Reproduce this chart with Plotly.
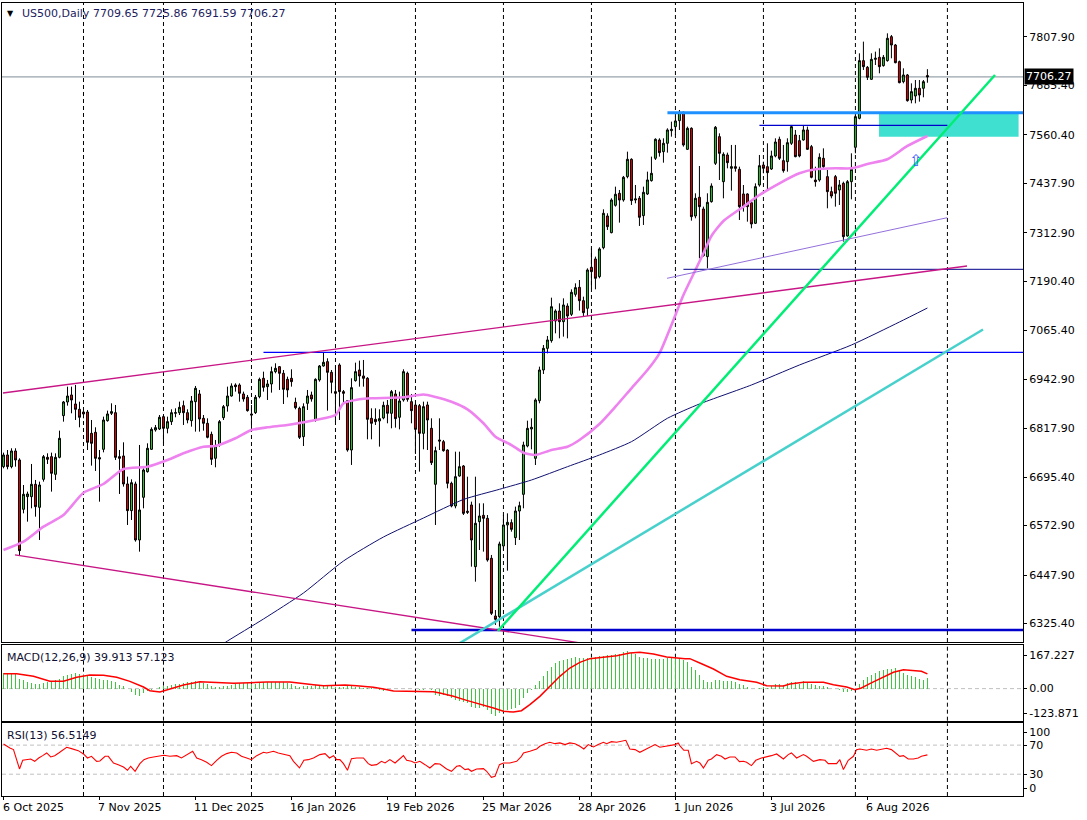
import plotly.graph_objects as go

# ---------------- data ----------------
opens = [
6721.8, 6751.3, 6721.8, 6761.4, 6738.7, 6614.1, 6646.1, 6646.1, 6677.2, 6619.1,
6689.8, 6745.4, 6747.1, 6702.5, 6745.4, 6850.7, 6885.2, 6902.9, 6880.1, 6866.7,
6859.9, 6859.9, 6806.0, 6808.6, 6744.6, 6765.6, 6838.0, 6856.6, 6858.2, 6747.1,
6748.8, 6678.1, 6610.7, 6678.1, 6536.6, 6644.4, 6709.2, 6765.6, 6814.5, 6817.0,
6848.1, 6818.7, 6835.5, 6856.6, 6858.2, 6875.9, 6858.2, 6838.0, 6886.0, 6905.4,
6843.9, 6831.3, 6803.5, 6742.9, 6776.6, 6845.6, 6875.1, 6900.3, 6928.1, 6928.1,
6905.4, 6897.0, 6854.9, 6858.2, 6898.7, 6945.0, 6923.9, 6930.7, 6961.8, 6974.4,
6957.6, 6942.4, 6945.0, 6884.3, 6869.2, 6797.6, 6881.8, 6902.9, 6839.7, 6940.8,
6976.1, 6987.1, 6960.1, 6911.3, 6978.6, 6911.3, 6888.6, 6763.9, 6939.1, 6966.0,
6950.9, 6945.0, 6843.9, 6841.4, 6837.2, 6844.8, 6876.8, 6856.6, 6905.4, 6846.5,
6890.2, 6957.6, 6886.0, 6877.6, 6875.9, 6806.0, 6877.6, 6818.6, 6677.2, 6789.2,
6784.9, 6763.9, 6679.7, 6622.4, 6698.2, 6723.5, 6609.1, 6625.0, 6469.2, 6582.9,
6598.9, 6591.3, 6490.3, 6344.6, 6342.9, 6521.4, 6574.5, 6580.4, 6542.5, 6609.8,
6651.9, 6774.0, 6817.0, 6742.9, 6888.5, 6966.0, 7020.7, 7040.1, 7089.8, 7115.0,
7088.1, 7127.6, 7106.6, 7157.1, 7174.8, 7141.1, 7121.8, 7225.4, 7246.4, 7201.8,
7275.0, 7355.0, 7312.9, 7382.0, 7412.3, 7395.4, 7454.4, 7498.2, 7395.4, 7399.7,
7355.9, 7410.6, 7444.3, 7500.7, 7547.0, 7517.5, 7538.6, 7570.6, 7580.7, 7595.8,
7616.9, 7523.4, 7576.5, 7355.0, 7402.2, 7372.7, 7252.3, 7391.2, 7488.1, 7555.4,
7441.7, 7509.1, 7475.4, 7479.6, 7472.9, 7410.6, 7410.6, 7388.7, 7336.5, 7433.3,
7483.8, 7479.6, 7473.7, 7506.6, 7548.7, 7494.8, 7492.2, 7538.6, 7559.6, 7545.3,
7547.0, 7572.3, 7530.1, 7445.9, 7445.9, 7500.7, 7454.4, 7416.5, 7454.4, 7420.7,
7437.5, 7304.5, 7441.7, 7528.5, 7601.7, 7747.4, 7730.5, 7700.2, 7750.7, 7755.8,
7734.8, 7747.4, 7808.0, 7786.9, 7744.8, 7694.3, 7711.2, 7648.0, 7658.1, 7677.5,
7677.5, 7709.65]

highs = [
6757.2, 6763.9, 6768.2, 6768.2, 6742.9, 6675.5, 6658.7, 6728.6, 6688.2, 6684.0,
6751.3, 6755.5, 6757.2, 6755.5, 6812.8, 6887.7, 6923.9, 6923.9, 6928.1, 6886.0,
6865.0, 6865.0, 6839.7, 6821.2, 6763.9, 6848.1, 6863.3, 6881.8, 6877.6, 6763.9,
6783.3, 6696.6, 6689.8, 6684.0, 6776.6, 6717.6, 6780.8, 6821.2, 6827.1, 6852.3,
6852.3, 6848.1, 6866.7, 6869.2, 6886.0, 6888.6, 6866.7, 6900.3, 6925.6, 6915.5,
6852.3, 6843.9, 6810.3, 6789.2, 6839.7, 6877.6, 6923.9, 6932.3, 6932.3, 6932.3,
6911.3, 6902.9, 6877.6, 6902.9, 6946.7, 6961.8, 6940.8, 6974.4, 6982.9, 6976.0,
6966.0, 6949.2, 6967.7, 6896.1, 6873.4, 6881.8, 6915.5, 6911.3, 6945.0, 6978.6,
7009.8, 6995.5, 6966.0, 6978.6, 6982.9, 6915.5, 6890.2, 6945.0, 6984.5, 6989.6,
6991.3, 6948.0, 6869.2, 6869.2, 6866.7, 6886.0, 6890.2, 6915.5, 6915.5, 6911.3,
6967.7, 6961.8, 6905.4, 6881.8, 6880.1, 6886.0, 6886.0, 6843.9, 6772.3, 6843.9,
6789.2, 6765.6, 6683.9, 6759.7, 6759.7, 6726.0, 6696.5, 6633.4, 6696.5, 6629.2,
6629.2, 6599.7, 6498.7, 6359.7, 6532.4, 6599.7, 6603.9, 6588.8, 6620.8, 6633.4,
6784.9, 6838.0, 6843.9, 6894.4, 6974.4, 7029.1, 7051.9, 7148.7, 7119.2, 7134.4,
7147.0, 7134.4, 7169.7, 7184.9, 7193.3, 7151.2, 7222.8, 7273.3, 7252.3, 7275.9,
7371.9, 7361.8, 7399.7, 7429.1, 7420.7, 7456.1, 7517.5, 7500.7, 7433.3, 7405.5,
7429.1, 7467.0, 7504.9, 7551.2, 7551.2, 7551.2, 7576.5, 7593.3, 7606.0, 7622.8,
7618.6, 7580.7, 7579.0, 7412.3, 7481.3, 7378.6, 7412.3, 7437.5, 7582.3, 7563.8,
7515.8, 7515.0, 7534.4, 7534.4, 7479.6, 7433.3, 7412.3, 7395.4, 7437.5, 7509.1,
7492.2, 7538.6, 7520.0, 7551.2, 7555.4, 7534.4, 7551.2, 7584.9, 7572.3, 7559.6,
7584.9, 7580.7, 7534.4, 7479.6, 7513.3, 7525.9, 7471.2, 7429.1, 7458.6, 7445.9,
7441.7, 7445.9, 7513.3, 7610.1, 7765.9, 7795.4, 7733.9, 7765.9, 7770.1, 7778.5,
7761.7, 7816.4, 7812.2, 7789.5, 7747.4, 7728.0, 7713.7, 7690.1, 7698.5, 7698.5,
7698.5, 7725.86]

lows = [
6717.6, 6715.1, 6717.6, 6721.8, 6498.7, 6603.9, 6582.9, 6616.6, 6595.5, 6536.6,
6684.0, 6728.6, 6658.7, 6688.2, 6742.9, 6835.5, 6875.9, 6856.6, 6839.7, 6821.2,
6843.9, 6763.9, 6724.4, 6710.9, 6633.4, 6758.0, 6835.5, 6852.3, 6738.7, 6652.8,
6671.3, 6574.5, 6587.1, 6532.4, 6507.1, 6616.6, 6706.7, 6763.9, 6810.3, 6814.5,
6780.8, 6806.0, 6827.1, 6846.5, 6852.3, 6827.1, 6831.3, 6822.9, 6810.3, 6810.3,
6812.8, 6793.4, 6726.1, 6720.2, 6772.4, 6839.7, 6860.8, 6898.7, 6911.3, 6886.0,
6886.0, 6860.8, 6818.7, 6854.9, 6894.5, 6911.3, 6890.2, 6908.8, 6957.6, 6915.5,
6880.1, 6897.0, 6923.9, 6866.7, 6791.7, 6774.0, 6865.0, 6886.0, 6835.5, 6936.6,
6974.4, 6863.3, 6907.1, 6835.5, 6839.7, 6881.8, 6759.7, 6726.1, 6936.6, 6923.9,
6923.9, 6790.9, 6790.9, 6827.1, 6772.4, 6841.4, 6831.3, 6818.7, 6820.4, 6816.1,
6886.0, 6886.0, 6831.3, 6753.8, 6709.2, 6765.6, 6763.9, 6726.0, 6574.5, 6763.9,
6759.7, 6667.1, 6619.1, 6616.6, 6696.5, 6599.7, 6602.3, 6469.2, 6431.3, 6511.3,
6507.1, 6481.8, 6347.1, 6321.9, 6317.6, 6511.3, 6459.1, 6557.6, 6523.9, 6536.6,
6616.6, 6770.6, 6765.6, 6726.0, 6881.8, 6955.9, 7008.1, 7035.0, 7058.6, 7046.0,
7050.2, 7046.0, 7102.4, 7151.2, 7115.9, 7102.4, 7102.4, 7172.3, 7169.8, 7197.6,
7270.8, 7319.7, 7311.2, 7378.6, 7338.2, 7391.2, 7450.2, 7382.8, 7387.0, 7329.8,
7332.3, 7408.1, 7441.8, 7496.5, 7504.9, 7489.7, 7515.0, 7555.4, 7559.6, 7572.3,
7530.2, 7521.7, 7343.2, 7349.1, 7248.1, 7252.3, 7222.8, 7388.7, 7483.8, 7445.9,
7399.6, 7475.4, 7419.0, 7467.0, 7344.9, 7366.0, 7340.7, 7323.9, 7334.8, 7429.1,
7462.8, 7422.4, 7471.2, 7503.2, 7496.5, 7464.5, 7467.0, 7534.4, 7503.2, 7503.2,
7545.3, 7521.7, 7450.2, 7429.1, 7441.7, 7471.2, 7374.4, 7399.6, 7378.6, 7382.8,
7290.2, 7302.8, 7397.1, 7513.3, 7599.2, 7723.8, 7698.5, 7698.5, 7736.4, 7715.4,
7732.2, 7744.8, 7753.3, 7740.6, 7690.1, 7690.1, 7643.8, 7639.6, 7639.6, 7643.8,
7654.8, 7691.59]

closes = [
6751.3, 6721.8, 6761.4, 6738.7, 6509.7, 6652.0, 6652.8, 6677.2, 6620.8, 6675.5,
6747.1, 6740.4, 6705.0, 6745.4, 6793.4, 6885.2, 6900.3, 6890.2, 6866.7, 6846.5,
6854.9, 6783.3, 6780.8, 6742.9, 6741.2, 6839.7, 6854.9, 6860.8, 6745.4, 6742.9,
6678.1, 6610.7, 6681.4, 6536.6, 6612.4, 6713.4, 6768.2, 6816.1, 6820.4, 6846.5,
6818.7, 6835.5, 6858.2, 6858.2, 6871.7, 6858.2, 6839.7, 6887.7, 6919.7, 6842.2,
6831.3, 6795.9, 6740.4, 6774.0, 6835.5, 6873.4, 6900.3, 6925.6, 6923.9, 6907.1,
6892.8, 6863.3, 6852.3, 6897.0, 6942.4, 6922.2, 6930.7, 6961.8, 6970.2, 6957.6,
6917.2, 6915.5, 6936.6, 6870.9, 6795.9, 6873.4, 6900.3, 6892.8, 6942.4, 6976.1,
6985.4, 6960.1, 6934.9, 6907.1, 6911.3, 6907.1, 6763.9, 6921.4, 6961.8, 6950.9,
6945.0, 6841.4, 6831.3, 6835.5, 6843.1, 6876.8, 6856.6, 6911.3, 6843.1, 6887.7,
6961.8, 6891.9, 6863.3, 6816.1, 6806.0, 6873.4, 6839.7, 6731.9, 6762.2, 6786.6,
6762.2, 6679.7, 6622.4, 6696.5, 6721.8, 6603.9, 6606.6, 6536.6, 6578.7, 6597.2,
6591.3, 6486.0, 6351.3, 6336.2, 6526.5, 6574.5, 6581.2, 6563.5, 6609.8, 6623.3,
6776.5, 6818.6, 6821.2, 6890.2, 6966.0, 7020.7, 7041.8, 7125.9, 7115.0, 7088.1,
7130.2, 7102.4, 7162.2, 7174.0, 7141.1, 7110.8, 7218.6, 7214.4, 7197.6, 7271.7,
7361.8, 7328.1, 7395.4, 7409.8, 7395.4, 7452.7, 7498.2, 7393.8, 7398.0, 7351.7,
7414.8, 7446.0, 7462.8, 7548.7, 7515.0, 7538.6, 7572.3, 7574.0, 7595.0, 7616.9,
7534.4, 7576.5, 7353.3, 7399.7, 7378.6, 7254.8, 7389.5, 7430.8, 7579.0, 7513.3,
7510.8, 7489.7, 7479.6, 7475.4, 7378.6, 7378.6, 7378.6, 7334.8, 7429.1, 7482.1,
7475.4, 7464.5, 7506.6, 7541.9, 7500.7, 7469.5, 7540.2, 7580.7, 7504.9, 7506.6,
7572.3, 7523.4, 7452.7, 7441.7, 7503.2, 7479.6, 7416.5, 7405.5, 7412.3, 7433.3,
7302.8, 7441.7, 7472.9, 7605.9, 7747.4, 7732.2, 7705.3, 7750.7, 7753.3, 7732.2,
7755.8, 7803.8, 7786.9, 7742.3, 7691.8, 7711.2, 7646.3, 7669.1, 7677.5, 7660.6,
7694.3, 7706.27]

# moving averages (bar index, price)
ma_pink_x = [0, 5, 10, 15, 20, 25, 30, 36, 41, 45, 50, 53, 58, 62, 66, 71, 78, 83, 85, 89,
             92, 100, 105, 108, 112, 116, 120, 123, 127, 130, 133, 137, 141, 144, 149, 153,
             157, 161, 164, 167, 170, 173, 175, 177, 180, 185, 189, 194, 199, 203, 208, 212,
             216, 221, 226, 231]
ma_pink_y = [6511.3, 6532.3, 6570.2, 6599.7, 6656.0, 6678.0, 6715.9, 6721.7, 6738.6, 6755.6,
             6772.2, 6774.0, 6793.5, 6814.4, 6821.2, 6827.1, 6839.7, 6852.3, 6881.8, 6892.0,
             6894.5, 6897.0, 6904.1, 6897.8, 6885.9, 6866.7, 6831.4, 6797.5, 6776.5, 6757.1,
             6751.3, 6764.0, 6772.2, 6789.2, 6829.6, 6873.3, 6919.8, 6966.0, 7008.2, 7079.7,
             7155.4, 7218.6, 7260.8, 7304.5, 7342.4, 7378.5, 7408.0, 7437.6, 7462.8, 7472.9,
             7475.5, 7475.5, 7486.3, 7498.2, 7531.8, 7557.1]
ma_navy_x = [54, 56, 65, 75, 85, 95, 105, 115, 124, 132, 141, 149, 157, 166, 174, 187, 199,
             212, 224, 231]
ma_navy_y = [6268.0, 6281.4, 6337.0, 6402.7, 6483.5, 6544.1, 6592.1, 6638.9, 6664.6, 6688.1,
             6721.7, 6751.3, 6784.9, 6844.0, 6880.1, 6928.1, 6978.6, 7029.1, 7087.2, 7122.6]

# MACD(12,26,9): main values per bar, signal sampled
macd_main = [
60.3, 60.3, 60.3, 57.7, 37.1, 32.0, 24.2, 21.7, 19.1, 19.1,
21.7, 24.2, 28.1, 32.0, 37.1, 47.4, 52.6, 56.4, 60.3, 57.7,
52.6, 47.4, 43.5, 41.0, 37.1, 34.5, 32.0, 28.1, 24.2, 15.2,
8.8, -1.5, -14.4, -23.4, -27.2, -17.0, -10.5, -4.1, -1.5, 6.2,
8.8, 11.4, 13.9, 16.5, 19.1, 21.7, 24.2, 25.5, 28.1, 25.5,
21.7, 16.5, 8.8, 6.2, 6.2, 8.8, 11.4, 15.2, 19.1, 21.7,
21.7, 20.4, 16.5, 19.1, 21.7, 24.2, 24.2, 24.2, 25.5, 26.8,
24.2, 21.7, 19.1, 11.4, 6.2, 8.8, 11.4, 11.4, 13.9, 15.2,
15.2, 13.9, 8.8, 4.9, 6.2, 6.2, 8.8, 8.8, 6.2, 4.9,
3.6, 2.3, 1.0, -1.5, -4.1, -7.9, -6.7, -2.8, -2.8, -1.5,
-1.5, -2.8, -2.8, -2.8, -4.1, -4.1, -2.8, -4.1, -23.4, -27.2,
-23.4, -29.8, -36.3, -45.3, -49.1, -53.0, -55.6, -71.0, -74.9, -74.9,
-71.0, -81.3, -96.7, -107.0, -94.2, -87.7, -81.3, -78.7, -74.9, -62.0,
-36.3, -17.0, -4.1, 15.2, 28.1, 50.0, 66.7, 83.4, 98.9, 105.3,
111.8, 115.6, 119.5, 122.0, 118.2, 118.2, 118.2, 122.0, 122.0, 124.6,
127.2, 129.8, 131.1, 133.6, 134.9, 140.1, 143.9, 137.5, 133.6, 122.0,
118.2, 118.2, 115.6, 115.6, 115.6, 115.6, 118.2, 118.2, 118.2, 118.2,
109.2, 101.5, 83.4, 70.6, 52.6, 32.0, 24.2, 24.2, 32.0, 32.0,
29.4, 29.4, 28.1, 24.2, 19.1, 13.9, 6.2, -0.2, -1.5, 1.1,
4.9, 2.3, 8.8, 17.8, 17.8, 13.9, 21.7, 25.5, 25.5, 17.8,
28.1, 21.7, 17.8, 12.6, 10.1, 11.4, 4.9, -1.5, -2.8, -6.7,
-14.4, -11.8, -9.2, -2.8, 19.1, 34.5, 43.5, 51.3, 60.3, 66.7,
73.1, 75.7, 75.7, 78.3, 68.0, 60.3, 52.6, 47.4, 43.5, 38.4,
34.5, 39.913]
macd_signal_x = [0, 3.3, 7.5, 11.6, 15, 18.3, 21.6, 25, 28.3, 31.6, 35, 36.6, 39.1, 41.6, 45,
                 49.1, 53.3, 57.5, 61.6, 65.8, 71.6, 74.1, 77.5, 80, 85.4, 88.3, 90.8, 92.5,
                 95, 97.5, 100.8, 107.5, 109.1, 112.5, 115.8, 119.1, 122.5, 125, 127.5, 129.5,
                 131.6, 134.1, 136.6, 139.1, 141.6, 144.1, 146.6, 150, 153.3, 156.6, 159.1,
                 162.5, 165.8, 170.4, 171.6, 174.1, 177.5, 180.8, 184.1, 188.3, 190.8, 195,
                 196.6, 200, 205, 207.5, 210.8, 212.9, 214.5, 216.6, 219.1, 222.5, 225, 227.5,
                 229.5, 231]
macd_signal_y = [57.7, 57.7, 47.4, 28.1, 28.1, 43.5, 52.6, 51.3, 43.5, 28.1, 6.2, -7.9, -13.1,
                 -1.5, 13.9, 26.8, 24.2, 20.4, 22.9, 25.5, 25.5, 20.4, 15.2, 11.4, 13.9, 11.4,
                 8.8, 4.9, -1.5, -9.2, -10.5, -11.8, -17.0, -29.8, -45.3, -59.4, -74.9, -87.7,
                 -90.3, -85.2, -62.0, -29.8, 8.8, 47.4, 79.6, 101.5, 115.6, 120.8, 127.2,
                 137.5, 140.1, 133.6, 122.0, 115.6, 115.6, 98.9, 75.7, 47.4, 34.5, 24.2, 11.4,
                 10.1, 17.8, 24.2, 24.2, 15.2, 6.2, -4.1, 2.4, 19.1, 37.1, 62.9, 73.1, 70.6,
                 66.7, 57.123]
macd_scale_max = 167.227
macd_scale_min = -123.871

# RSI(13) sampled
rsi_x = [0, 0.8, 1.6, 2.5, 3.1, 4, 4.8, 5.8, 6.8, 7.8, 8.8, 9.8, 10.8, 11.8, 12.8, 13.8, 15,
         15.8, 17, 18.7, 20, 21, 22, 23.3, 24.1, 25.4, 26.2, 27.5, 28.7, 30, 31, 31.8, 32.9,
         34.1, 35.1, 36.2, 37.5, 39.1, 40.1, 41.6, 43.3, 44.5, 45.8, 47.3, 48.3, 49.5, 50.8,
         52, 53.3, 54.5, 55.8, 57, 58.3, 59.5, 60.8, 62, 63.3, 65, 65.8, 67.5, 68.7, 70.4,
         71.6, 72.5, 74, 75.1, 76.2, 77.5, 79.1, 80.4, 81.5, 82.5, 83.3, 84.1, 85, 86, 87,
         88.3, 90, 91.2, 92, 93.3, 94.5, 95.4, 96.6, 97.9, 99.1, 100, 100.8, 102, 102.9,
         104.1, 105.4, 106.6, 107.9, 109.1, 110.8, 112, 113.3, 114.1, 115.4, 116.2, 117,
         118.3, 120, 120.8, 122, 122.9, 124, 125, 126.6, 128.3, 129.5, 130, 131.6, 133.3,
         134.1, 135.4, 136.6, 137.9, 139.1, 140.4, 141.6, 142.9, 144.1, 145.1, 146.2, 147.5,
         148.7, 150, 150.8, 152, 153.3, 154.5, 155.6, 156.6, 157.9, 159.1, 160.4, 161.6,
         162.9, 164.1, 165.4, 166.6, 167.9, 168.7, 169.1, 170.1, 171.2, 172, 173.3, 174.1,
         175, 176.2, 177, 178.3, 179.5, 180.4, 181.6, 182.9, 184, 185, 185.8, 187, 188.1,
         189.5, 190.8, 192, 193.3, 195, 196.2, 197, 198.3, 200, 200.8, 202.5, 204.1, 205.4,
         206.2, 207.5, 208.3, 209.1, 210, 211.2, 212.5, 213.3, 214.1, 215.8, 217, 218.3,
         219.5, 220.8, 222, 223.1, 224.1, 225, 226.2, 227.5, 228.7, 229.5, 231]
rsi_y = [71.6, 68.4, 66.1, 63.8, 52.3, 37.2, 49.1, 50.0, 50.9, 47.7, 52.3, 55.5, 59.2, 53.7,
         55.5, 59.2, 63.8, 67.0, 65.2, 62.4, 57.8, 52.3, 54.6, 47.7, 48.2, 54.6, 54.6, 45.4,
         43.1, 39.9, 35.4, 40.9, 34.0, 44.5, 50.0, 52.3, 53.7, 54.6, 56.0, 54.6, 55.5, 52.3,
         56.9, 61.5, 52.3, 50.0, 46.4, 41.8, 49.1, 54.6, 58.3, 60.1, 59.2, 54.6, 52.3, 50.0,
         55.5, 60.1, 59.2, 61.5, 59.2, 56.9, 55.5, 47.7, 38.6, 49.1, 50.0, 52.3, 56.9, 58.3,
         52.3, 55.5, 50.0, 50.0, 44.5, 35.4, 51.4, 52.3, 52.3, 44.5, 42.2, 43.1, 47.7, 45.4,
         50.0, 45.4, 50.9, 55.5, 49.1, 47.7, 45.4, 47.7, 43.1, 38.6, 44.5, 44.1, 37.2, 34.0,
         40.9, 41.8, 36.3, 37.2, 34.0, 37.2, 37.6, 34.0, 25.7, 27.1, 43.1, 45.4, 45.4, 47.7,
         54.6, 59.2, 61.5, 64.7, 68.4, 72.0, 73.9, 72.0, 73.0, 70.7, 73.0, 72.0, 68.4, 64.7,
         70.7, 67.4, 70.7, 73.9, 72.0, 74.8, 73.9, 75.2, 76.6, 64.7, 63.8, 60.1, 63.8, 66.1,
         70.7, 67.0, 68.4, 70.2, 70.7, 73.0, 69.3, 62.9, 62.9, 44.5, 47.7, 45.4, 38.6, 49.1,
         50.9, 56.9, 54.6, 50.9, 53.7, 53.7, 47.3, 47.7, 46.4, 41.8, 49.1, 52.3, 53.7, 55.5,
         57.8, 50.9, 56.9, 59.2, 52.3, 56.9, 54.6, 47.7, 50.0, 49.1, 44.5, 44.1, 44.5, 50.0,
         36.3, 49.1, 54.6, 63.8, 64.7, 62.9, 64.7, 62.9, 63.8, 65.6, 63.8, 59.2, 54.6, 55.5,
         50.9, 50.9, 52.3, 54.6, 56.5149]
rsi_levels = [70, 30]

# drawn objects (bar index, price)
trend_lines = [  # x0, y0, x1, y1, colour, width
    (-0.125, 6907.9, 240.9, 7228.7, "#C71585", 1.3),
    (2.875, 6498.7, 150.0, 6267.4, "#C71585", 1.3),
    (112.0, 6263.5, 244.9, 7068.3, "#48D1CC", 2.5),
    (123.6, 6306.7, 247.9, 7711.1, "#00EE76", 2.5),
    (165.9, 7197.6, 235.95, 7350.7, "#9370DB", 1.0),
]
horizontal_lines = [  # start bar, end bar, price, colour, width
    (65, 256, 7010.7, "#0000FF", 1.2),
    (102, 256, 6309.2, "#0000CD", 2.5),
    (166, 256, 7615.9, "#1E90FF", 3.0),
    (189, 236, 7584.1, "#0000CD", 1.2),
    (170, 256, 7220.3, "#00008B", 1.0),
]
zone_rect = (218.9, 253.8, 7555.3, 7615.2)
arrow_point = (227.9, 7496.4)

date_label_bars = [0, 24, 48, 72, 96, 120, 144, 168, 192, 216]
date_labels = ["6 Oct 2025", "7 Nov 2025", "11 Dec 2025", "16 Jan 2026", "19 Feb 2026",
               "25 Mar 2026", "28 Apr 2026", "1 Jun 2026", "3 Jul 2026", "6 Aug 2026"]
month_start_bars = [20, 40, 62, 83, 103, 125, 147, 168, 190, 213, 236]
price_ticks = [7807.90, 7685.40, 7560.40, 7437.90, 7312.90, 7190.40, 7065.40, 6942.90,
               6817.90, 6695.40, 6572.90, 6447.90, 6325.40]
symbol = "US500,Daily"

# ---------------- layout geometry (pixels) ----------------
W, H = 1087, 820
L, R, T, B = 2, 64, 3, 24
PW, PH = W - L - R, H - T - B
PLOT_BOTTOM = H - B


def fy(py):
    return (PLOT_BOTTOM - py) / PH


def fx(px):
    return (px - L) / PW


main_dom = [fy(642), 1.0]
macd_dom = [fy(720.7), fy(645.3)]
rsi_dom = [0.0, fy(723.3)]
x_range = [-0.375, 254.9]
price_range = [6278.9, 7893.0]

FONT = "DejaVu Sans"
n = len(opens)
bars = list(range(n))

fig = go.Figure()

# candles
fig.add_trace(go.Candlestick(
    x=bars, open=opens, high=highs, low=lows, close=closes,
    increasing=dict(line=dict(color="black", width=1), fillcolor="#2DC82D"),
    decreasing=dict(line=dict(color="black", width=1), fillcolor="#E00000"),
    whiskerwidth=0, xaxis="x", yaxis="y", showlegend=False, hoverinfo="skip"))

# moving averages
fig.add_trace(go.Scatter(x=ma_navy_x, y=ma_navy_y, mode="lines",
                         line=dict(color="#101070", width=1, shape="spline", smoothing=0.6),
                         xaxis="x", yaxis="y", showlegend=False, hoverinfo="skip"))
fig.add_trace(go.Scatter(x=ma_pink_x, y=ma_pink_y, mode="lines",
                         line=dict(color="#EE82EE", width=2.6, shape="spline", smoothing=0.6),
                         xaxis="x", yaxis="y", showlegend=False, hoverinfo="skip"))

# horizontal objects
for x0, x1, p, col, w in horizontal_lines:
    fig.add_trace(go.Scatter(x=[x0, x1], y=[p, p], mode="lines",
                             line=dict(color=col, width=w),
                             xaxis="x", yaxis="y", showlegend=False, hoverinfo="skip"))
# trend lines
for x0, y0, x1, y1, col, w in trend_lines:
    fig.add_trace(go.Scatter(x=[x0, x1], y=[y0, y1], mode="lines",
                             line=dict(color=col, width=w),
                             xaxis="x", yaxis="y", showlegend=False, hoverinfo="skip"))

# MACD
fig.add_trace(go.Bar(x=bars, y=macd_main, width=0.3,
                     marker=dict(color="#3CC83C", line=dict(width=0)),
                     xaxis="x2", yaxis="y2", showlegend=False, hoverinfo="skip"))
fig.add_trace(go.Scatter(x=macd_signal_x, y=macd_signal_y, mode="lines",
                         line=dict(color="#FF0000", width=1.5),
                         xaxis="x2", yaxis="y2", showlegend=False, hoverinfo="skip"))

# RSI
fig.add_trace(go.Scatter(x=rsi_x, y=rsi_y, mode="lines",
                         line=dict(color="#FF0000", width=1.1),
                         xaxis="x3", yaxis="y3", showlegend=False, hoverinfo="skip"))

shapes = []
grid_dash = "4px,3px"
for b in month_start_bars:
    for yr in ("y domain", "y2 domain", "y3 domain"):
        shapes.append(dict(type="line", xref="x", yref=yr, x0=b, x1=b, y0=0, y1=1,
                           line=dict(color="black", width=1, dash=grid_dash), layer="below"))
shapes.append(dict(type="line", xref="x2 domain", yref="y2", x0=0, x1=1, y0=0, y1=0,
                   line=dict(color="#C0C0C0", width=1, dash=grid_dash), layer="below"))
for lv in rsi_levels:
    shapes.append(dict(type="line", xref="x3 domain", yref="y3", x0=0, x1=1, y0=lv, y1=lv,
                       line=dict(color="#C0C0C0", width=1, dash=grid_dash), layer="below"))
shapes.append(dict(type="rect", xref="x", yref="y", x0=zone_rect[0], x1=zone_rect[1],
                   y0=zone_rect[2], y1=zone_rect[3], fillcolor="#40E0D0",
                   line=dict(width=0), layer="below"))
shapes.append(dict(type="line", xref="x domain", yref="y", x0=0, x1=1,
                   y0=closes[-1], y1=closes[-1], line=dict(color="#7F8C99", width=1),
                   layer="below"))

annotations = []
for b, t in zip(date_label_bars, date_labels):
    annotations.append(dict(x=b, xref="x3", y=fy(807), yref="paper", text=t,
                            showarrow=False, xanchor="left", yanchor="middle", xshift=-3,
                            font=dict(family=FONT, size=11, color="black")))
annotations.append(dict(x=fx(5), xref="paper", y=fy(13), yref="paper", text="▼",
                        showarrow=False, xanchor="left", yanchor="middle",
                        font=dict(family=FONT, size=8, color="black")))
annotations.append(dict(x=fx(20), xref="paper", y=fy(13), yref="paper", text=symbol,
                        showarrow=False, xanchor="left", yanchor="middle",
                        font=dict(family=FONT, size=11, color="#1C1C60")))
annotations.append(dict(x=fx(91), xref="paper", y=fy(13), yref="paper",
                        text=f"{opens[-1]:.2f} {highs[-1]:.2f} {lows[-1]:.2f} {closes[-1]:.2f}",
                        showarrow=False, xanchor="left", yanchor="middle",
                        font=dict(family=FONT, size=11, color="#1C1C60")))
annotations.append(dict(x=fx(5), xref="paper", y=fy(657), yref="paper",
                        text=f"MACD(12,26,9) {macd_main[-1]:.3f} {macd_signal_y[-1]:.3f}",
                        showarrow=False, xanchor="left", yanchor="middle",
                        font=dict(family=FONT, size=11, color="#101030")))
annotations.append(dict(x=fx(5), xref="paper", y=fy(735), yref="paper",
                        text=f"RSI(13) {rsi_y[-1]:.4f}",
                        showarrow=False, xanchor="left", yanchor="middle",
                        font=dict(family=FONT, size=11, color="#101030")))
annotations.append(dict(x=1.0, xref="paper", y=closes[-1], yref="y",
                        text=f"{closes[-1]:.2f}", showarrow=False, xanchor="left",
                        yanchor="middle", xshift=1, bgcolor="black", borderpad=1,
                        font=dict(family=FONT, size=11, color="white")))
annotations.append(dict(x=arrow_point[0], xref="x", y=arrow_point[1], yref="y", text="⇧",
                        showarrow=False, xanchor="center", yanchor="middle",
                        font=dict(family=FONT, size=16, color="#3A5BFF")))

# MACD / RSI right-axis labels sit inside the window like the terminal draws them
macd_px = (macd_scale_max - macd_scale_min) / (720.7 - 645.3)
macd_top_label = macd_scale_max - (655 - 645.3) * macd_px
macd_bot_label = macd_scale_max - (713.3 - 645.3) * macd_px
rsi_px = 100 / (796 - 723.3)

axis_common = dict(showgrid=False, zeroline=False, showline=True, mirror=True,
                   linecolor="black", linewidth=1, fixedrange=True)
tickfont = dict(family=FONT, size=11, color="black")

fig.update_layout(
    width=W, height=H, margin=dict(l=L, r=R, t=T, b=B),
    paper_bgcolor="white", plot_bgcolor="white", showlegend=False,
    font=dict(family=FONT, size=11, color="black"),
    bargap=0, dragmode=False,
    xaxis=dict(domain=[0, 1], anchor="y", range=x_range, showticklabels=False, ticks="",
               rangeslider=dict(visible=False), **axis_common),
    xaxis2=dict(domain=[0, 1], anchor="y2", range=x_range, matches="x",
                showticklabels=False, ticks="", **axis_common),
    xaxis3=dict(domain=[0, 1], anchor="y3", range=x_range, matches="x",
                showticklabels=False, ticks="outside", ticklen=3, tickcolor="black",
                tickvals=date_label_bars, **axis_common),
    yaxis=dict(domain=main_dom, anchor="x", side="right", range=price_range,
               tickvals=price_ticks, ticktext=[f"{v:.2f}" for v in price_ticks],
               ticks="outside", ticklen=3, tickcolor="black", tickfont=tickfont,
               **axis_common),
    yaxis2=dict(domain=macd_dom, anchor="x2", side="right",
                range=[macd_scale_min, macd_scale_max],
                tickvals=[macd_top_label, 0, macd_bot_label],
                ticktext=[f"{macd_scale_max:.3f}", "0.00", f"{macd_scale_min:.3f}"],
                ticks="outside", ticklen=3, tickcolor="black", tickfont=tickfont,
                **axis_common),
    yaxis3=dict(domain=rsi_dom, anchor="x3", side="right", range=[0, 100],
                tickvals=[(796 - 732.3) * rsi_px, 70, 30, (796 - 788.3) * rsi_px],
                ticktext=["100", "70", "30", "0"],
                ticks="outside", ticklen=3, tickcolor="black", tickfont=tickfont,
                **axis_common),
    shapes=shapes, annotations=annotations,
)

fig.write_html("out.html", config={"displayModeBar": False, "staticPlot": True},
               post_script="document.body.style.margin='0px';document.body.style.overflow='hidden';")
